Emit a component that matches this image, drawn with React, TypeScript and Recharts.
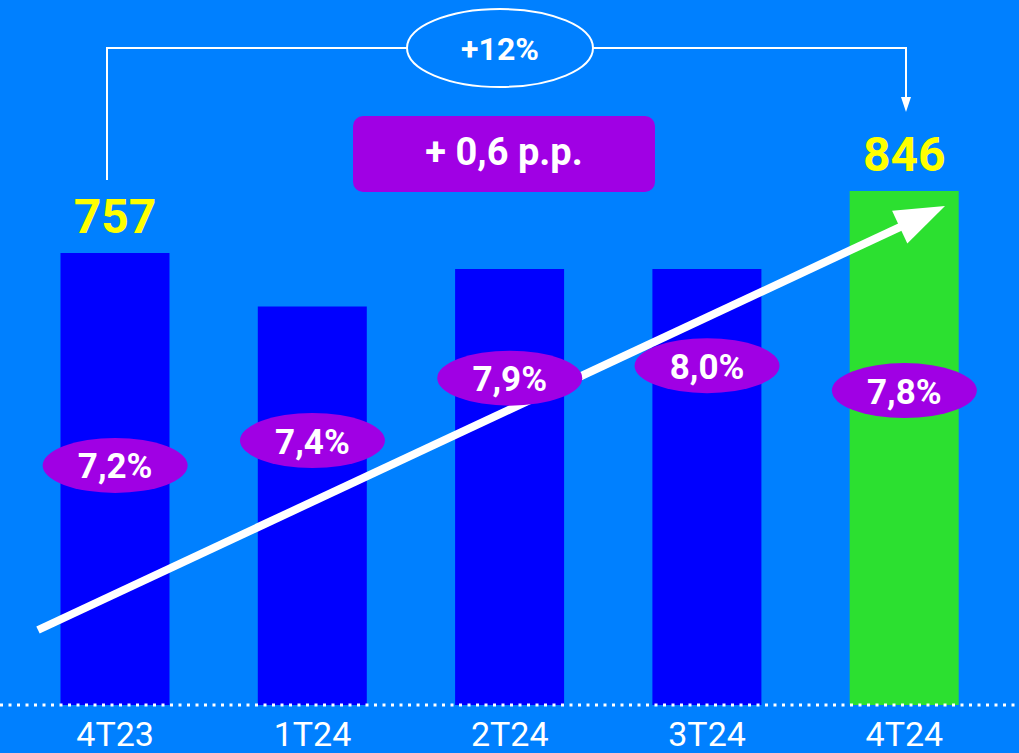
import React from "react";
import { BarChart, Bar, XAxis, YAxis, Cell, LabelList, LineChart, Line } from "recharts";

const quarters = ["4T23", "1T24", "2T24", "3T24", "4T24"];
const volumes = [757, 680, 734, 734, 846];
const volumeLabels = ["757", "", "", "", "846"];
const margins = [7.2, 7.4, 7.9, 8.0, 7.8];
const marginLabels = ["7,2%", "7,4%", "7,9%", "8,0%", "7,8%"];
const barColors = ["#0000FF", "#0000FF", "#0000FF", "#0000FF", "#2CE030"];

const W = 1019;
const H = 753;
const BG = "#0080FF";
const PURPLE = "#A000E4";
const FONT = "Roboto, 'Noto Sans', sans-serif";

const chartMargin = { top: 191, right: 16, left: 16.5, bottom: 0 };
// half of one category band, so the line points sit on the bar centres
const halfBand = (W - chartMargin.left - chartMargin.right) / quarters.length / 2;

const data = quarters.map((q, i) => ({
    q,
    volume: volumes[i],
    volumeLabel: volumeLabels[i],
    margin: margins[i],
    marginLabel: marginLabels[i],
}));

const QuarterTick = (props: any) => {
    const { x, y, payload } = props;
    return (
        <text x={x} y={y + 41} textAnchor="middle" fill="#FFFFFF" fontSize={34} fontFamily={FONT}>
            {payload.value}
        </text>
    );
};

const VolumeLabel = (props: any) => {
    const { x, y, width, value } = props;
    if (!value) return null;
    return (
        <text
            x={Number(x) + Number(width) / 2}
            y={Number(y) - 20}
            textAnchor="middle"
            fill="#FFFF00"
            fontSize={48}
            fontWeight={700}
            fontFamily={FONT}
        >
            {value}
        </text>
    );
};

const MarginDot = (props: any) => {
    const { cx, cy, payload, index } = props;
    if (cx == null || cy == null) return null;
    return (
        <g key={`m-${index}`}>
            <ellipse cx={cx} cy={cy} rx={72.5} ry={27.5} fill={PURPLE} />
            <text
                x={cx}
                y={cy + 13}
                textAnchor="middle"
                fill="#FFFFFF"
                fontSize={35}
                fontWeight={700}
                fontFamily={FONT}
            >
                {payload.marginLabel}
            </text>
        </g>
    );
};

// decorations: dotted baseline, growth bracket, p.p. box and trend arrow
function Overlay() {
    const start = { x: 38, y: 630 };
    const tip = { x: 945, y: 206 };
    const dx = tip.x - start.x;
    const dy = tip.y - start.y;
    const len = Math.sqrt(dx * dx + dy * dy);
    const ux = dx / len;
    const uy = dy / len;
    const headLen = 50;
    const headHalf = 18;
    const bx = tip.x - headLen * ux;
    const by = tip.y - headLen * uy;
    const nx = -uy;
    const ny = ux;
    const head = `${tip.x},${tip.y} ${bx + headHalf * nx},${by + headHalf * ny} ${bx - headHalf * nx},${by - headHalf * ny}`;

    return (
        <svg width={W} height={H} style={{ position: "absolute", left: 0, top: 0, pointerEvents: "none" }}>
            <line x1={0} y1={705} x2={W} y2={705} stroke="#FFFFFF" strokeWidth={3} strokeDasharray="3 5.5" />

            <polyline points="107,180 107,48 407,48" fill="none" stroke="#FFFFFF" strokeWidth={2} />
            <polyline points="593,48 906,48 906,98" fill="none" stroke="#FFFFFF" strokeWidth={2} />
            <polygon points="901,97 911,97 906,112" fill="#FFFFFF" />
            <ellipse cx={500} cy={48} rx={93} ry={39} fill="none" stroke="#FFFFFF" strokeWidth={2} />
            <text x={500} y={60} textAnchor="middle" fill="#FFFFFF" fontSize={32} fontWeight={700} fontFamily={FONT}>
                +12%
            </text>

            <rect x={353} y={116} width={302} height={76} rx={10} fill={PURPLE} />
            <text x={504} y={165} textAnchor="middle" fill="#FFFFFF" fontSize={38} fontWeight={700} fontFamily={FONT}>
                + 0,6 p.p.
            </text>

            <line x1={start.x} y1={start.y} x2={bx + 2 * ux} y2={by + 2 * uy} stroke="#FFFFFF" strokeWidth={8} />
            <polygon points={head} fill="#FFFFFF" />
        </svg>
    );
}

export default function App() {
    return (
        <div style={{ position: "absolute", left: 0, top: 0, width: W, height: H, background: BG, overflow: "hidden" }}>
            <div style={{ position: "absolute", left: 0, top: 0 }}>
                <BarChart width={W} height={H} data={data} margin={chartMargin} barCategoryGap={0}>
                    <XAxis
                        dataKey="q"
                        height={48}
                        axisLine={false}
                        tickLine={false}
                        tickSize={0}
                        tickMargin={0}
                        interval={0}
                        tick={<QuarterTick />}
                    />
                    <YAxis hide domain={[108, 846]} allowDataOverflow />
                    <Bar dataKey="volume" barSize={109} isAnimationActive={false}>
                        {data.map((d, i) => (
                            <Cell key={d.q} fill={barColors[i]} />
                        ))}
                        <LabelList dataKey="volumeLabel" content={<VolumeLabel />} />
                    </Bar>
                </BarChart>
            </div>
            <Overlay />
            <div style={{ position: "absolute", left: 0, top: 0 }}>
                <LineChart width={W} height={H} data={data} margin={{ ...chartMargin, bottom: 48 }}>
                    <XAxis dataKey="q" hide padding={{ left: halfBand, right: halfBand }} />
                    <YAxis hide domain={[5.28, 9.4]} allowDataOverflow />
                    <Line
                        dataKey="margin"
                        stroke="none"
                        dot={MarginDot}
                        activeDot={false}
                        isAnimationActive={false}
                    />
                </LineChart>
            </div>
        </div>
    );
}
